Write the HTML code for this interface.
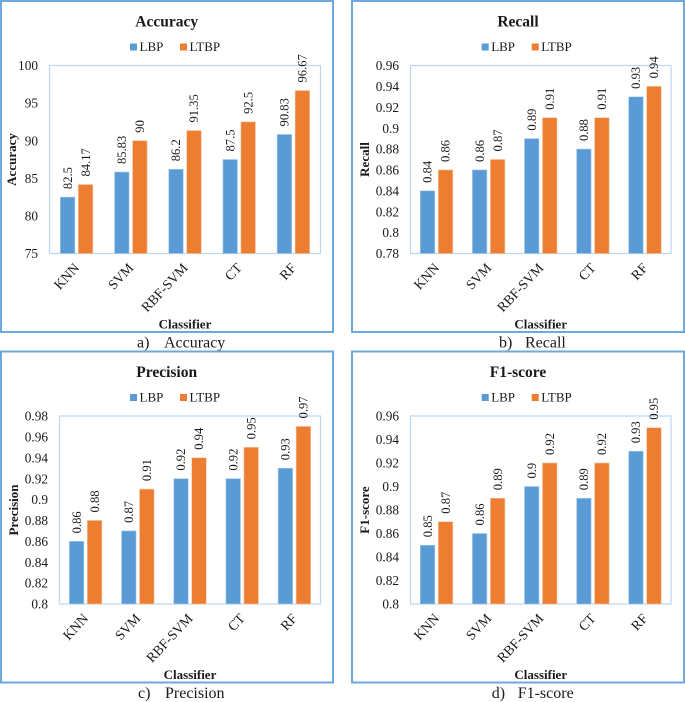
<!DOCTYPE html>
<html lang="en">
<head>
<meta charset="utf-8">
<title>Classifier performance charts</title>
<style>
html,body{margin:0;padding:0;background:#fff;width:685px;height:702px;overflow:hidden}
svg{display:block;font-family:"Liberation Serif",serif;color:#111;filter:blur(0.35px)}
text{fill:#1a1a1a}
</style>
</head>
<body>
<svg id="figure" width="685" height="702" viewBox="0 0 685 702" xmlns="http://www.w3.org/2000/svg"></svg>
<script>
const categories = ['KNN', 'SVM', 'RBF-SVM', 'CT', 'RF'];
const seriesNames = ['LBP', 'LTBP'];

const accuracyTicks = ['75', '80', '85', '90', '95', '100'];
const accuracyLBP = [82.5, 85.83, 86.2, 87.5, 90.83];
const accuracyLTBP = [84.17, 90, 91.35, 92.5, 96.67];

const recallTicks = ['0.78', '0.8', '0.82', '0.84', '0.86', '0.88', '0.9', '0.92', '0.94', '0.96'];
const recallLBP = [0.84, 0.86, 0.89, 0.88, 0.93];
const recallLTBP = [0.86, 0.87, 0.91, 0.91, 0.94];

const precisionTicks = ['0.8', '0.82', '0.84', '0.86', '0.88', '0.9', '0.92', '0.94', '0.96', '0.98'];
const precisionLBP = [0.86, 0.87, 0.92, 0.92, 0.93];
const precisionLTBP = [0.88, 0.91, 0.94, 0.95, 0.97];

const f1Ticks = ['0.8', '0.82', '0.84', '0.86', '0.88', '0.9', '0.92', '0.94', '0.96'];
const f1LBP = [0.85, 0.86, 0.9, 0.89, 0.93];
const f1LTBP = [0.87, 0.89, 0.92, 0.92, 0.95];

const panels = [
  {key:'accuracy', title:'Accuracy', letter:'a)', ticks:accuracyTicks, lbp:accuracyLBP, ltbp:accuracyLTBP,
   fx:1, fy:1, fw:332, fh:331, px:49.5, pw:271, py:65.5, ph:188, titleX:166.7, legX:130, yTitleX:16, capA:137, capB:164},
  {key:'recall', title:'Recall', letter:'b)', ticks:recallTicks, lbp:recallLBP, ltbp:recallLTBP,
   fx:352, fy:1, fw:332, fh:331, px:410.5, pw:260.5, py:65.5, ph:188, titleX:518, legX:481.7, yTitleX:369, capA:499, capB:525},
  {key:'precision', title:'Precision', letter:'c)', ticks:precisionTicks, lbp:precisionLBP, ltbp:precisionLTBP,
   fx:1, fy:351.5, fw:332, fh:331, px:59.5, pw:261, py:416, ph:188, titleX:166.7, legX:130, yTitleX:18, capA:138, capB:165},
  {key:'f1-score', title:'F1-score', letter:'d)', ticks:f1Ticks, lbp:f1LBP, ltbp:f1LTBP,
   fx:352, fy:351.5, fw:332, fh:331, px:410.5, pw:260.5, py:416, ph:188, titleX:518, legX:481.7, yTitleX:369, capA:491.7, capB:517.7}
];

const BLUE = '#5b9bd5';
const ORANGE = '#ed7d31';
const NS = 'http://www.w3.org/2000/svg';
const root = document.getElementById('figure');

function make(tag, attrs, text) {
  const el = document.createElementNS(NS, tag);
  for (const k in attrs) el.setAttribute(k, attrs[k]);
  if (text !== undefined) el.textContent = text;
  root.appendChild(el);
  return el;
}

panels.forEach(function (p) {
  const tickValues = p.ticks.map(Number);
  const yMin = tickValues[0];
  const yMax = tickValues[tickValues.length - 1];
  const yScale = function (v) { return p.py + p.ph - (v - yMin) / (yMax - yMin) * p.ph; };
  const band = p.pw / categories.length;
  const xCenter = function (i) { return p.px + band * (i + 0.5); };
  const barW = 14.5;
  const gap = 3.5;

  const frame = make('rect', {x:p.fx, y:p.fy, width:p.fw, height:p.fh, fill:'#fff', stroke:'#6fa8dc', 'stroke-width':2});
  
  

  const title = make('text', {x:p.titleX, y:p.fy + 25.5, 'text-anchor':'middle', 'font-size':15.5, 'font-weight':'bold'}, p.title);
  
  

  const legendY = p.fy + 42.5;
  seriesNames.forEach(function (name, s) {
    const lx = p.legX + s * 50;
    const swatch = make('rect', {x:lx, y:legendY, width:7, height:7, fill:s ? ORANGE : BLUE});
    
    
    const label = make('text', {x:lx + 9.5, y:legendY + 7.3, 'font-size':13}, name);
    
    
  });

  const plot = make('rect', {x:p.px, y:p.py, width:p.pw, height:p.ph, fill:'#fff', stroke:'#bdd7ee', 'stroke-width':1.2});
  
  

  p.ticks.forEach(function (t, i) {
    const tick = make('text', {x:p.px - 11.5, y:yScale(tickValues[i]) + 4.6, 'text-anchor':'end', 'font-size':13.3}, t);
    
    
  });

  categories.forEach(function (cat, i) {
    const cx = xCenter(i);
    [p.lbp, p.ltbp].forEach(function (series, s) {
      const v = series[i];
      const x = s ? cx + gap / 2 : cx - gap / 2 - barW;
      const top = yScale(v);
      const bar = make('rect', {x:x, y:top, width:barW, height:p.py + p.ph - top, fill:s ? ORANGE : BLUE, stroke:s ? '#f6c3a0' : '#a9cbe9', 'stroke-width':0.6});
      
      
      const lx = x + barW / 2 + 4.2;
      const ly = top - 8;
      const val = make('text', {x:lx, y:ly, 'font-size':12.6, transform:'rotate(-90 ' + lx + ' ' + ly + ')'}, String(v));
      
      
    });
    const tx = cx + 3.5;
    const ty = p.py + p.ph + 15;
    const catLabel = make('text', {x:tx, y:ty, 'text-anchor':'end', 'font-size':13.8, transform:'rotate(-47 ' + tx + ' ' + ty + ')'}, cat);
    
    
  });

  const yTitleY = p.py + p.ph / 2;
  const yTitle = make('text', {x:p.yTitleX, y:yTitleY, 'text-anchor':'middle', 'font-size':13, 'font-weight':'bold', transform:'rotate(-90 ' + p.yTitleX + ' ' + yTitleY + ')'}, p.title);
  
  

  const xTitle = make('text', {x:p.px + p.pw / 2, y:p.fy + 327.5, 'text-anchor':'middle', 'font-size':13, 'font-weight':'bold'}, 'Classifier');
  
  

  const capLetter = make('text', {x:p.capA, y:p.fy + 346.7, 'font-size':16}, p.letter);
  
  
  const capText = make('text', {x:p.capB, y:p.fy + 346.7, 'font-size':16}, p.title);
  
  
});
</script>
</body>
</html>
